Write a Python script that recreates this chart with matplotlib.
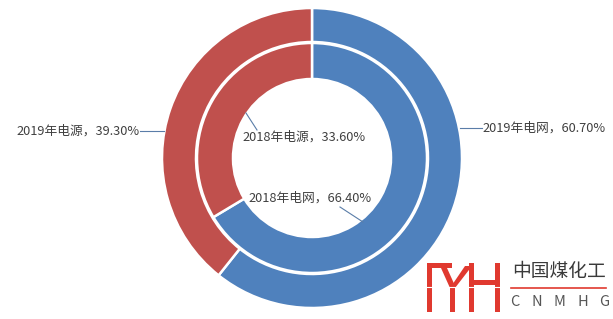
import matplotlib
matplotlib.use("Agg")
import matplotlib.pyplot as plt

plt.rcParams['font.family'] = ['Noto Sans CJK SC', 'DejaVu Sans']

# data
categories = ['电网', '电源']
values_2019 = [60.70, 39.30]
values_2018 = [66.40, 33.60]
colors = ['#4F81BD', '#C0504D']

W, H = 613, 319
fig = plt.figure(figsize=(W / 100, H / 100), dpi=100)
ax = fig.add_axes([0, 0, 1, 1])

cx, cy = 312, H - 158  # pie centre in pixel coords (y up)
wp = dict(edgecolor='white', linewidth=1.8)

# outer ring = 2019, inner ring = 2018
ax.pie(values_2019, colors=colors, startangle=90, counterclock=False,
       radius=150, center=(cx, cy), wedgeprops=dict(width=34, **wp))
ax.pie(values_2018, colors=colors, startangle=90, counterclock=False,
       radius=115, center=(cx, cy), wedgeprops=dict(width=36, **wp))

ax.set_xlim(0, W)
ax.set_ylim(0, H)
ax.set_aspect('equal')
ax.axis('off')


def Y(y):
    return H - y


txt_kw = dict(fontsize=9.2, color='#404040', va='center')
line_kw = dict(color='#5A7DA8', lw=0.8)

# labels (text from data, placement as in the reference)
lab = lambda yr, i, v: f'{yr}年{categories[i]}，{v:.2f}%'

ax.text(140, Y(131), lab(2019, 1, values_2019[1]), ha='right', **txt_kw)
ax.plot([140, 164], [Y(131), Y(131)], **line_kw)

ax.text(482, Y(128), lab(2019, 0, values_2019[0]), ha='left', **txt_kw)
ax.plot([460, 482], [Y(128), Y(128)], **line_kw)

ax.text(242, Y(137), lab(2018, 1, values_2018[1]), ha='left', **txt_kw)
ax.plot([246, 257], [Y(113), Y(130)], **line_kw)

ax.text(248, Y(198), lab(2018, 0, values_2018[0]), ha='left', **txt_kw)
ax.plot([340, 363], [Y(207), Y(222)], **line_kw)

# logo
red = '#E0392F'
bars = [  # x0, x1, y0, y1
    (427, 432, 263, 312),
    (427, 452, 263, 268),
    (450, 455, 288, 312),
    (469, 474, 263, 312),
    (469, 500, 280, 285),
    (495, 500, 263, 312),
]
for x0, x1, y0, y1 in bars:
    ax.fill([x0, x1, x1, x0], [Y(y0), Y(y0), Y(y1), Y(y1)], color=red, lw=0)
ax.fill([441, 447, 456, 450], [Y(268), Y(268), Y(288), Y(288)], color=red, lw=0)
ax.fill([465, 472, 455, 450], [Y(266), Y(266), Y(288), Y(288)], color=red, lw=0)
ax.plot([425, 502], [Y(286.5), Y(286.5)], color='white', lw=0.8)

ax.text(559, Y(272), '中国煤化工', ha='center', va='center', fontsize=13.5, color='#3a3a3a')
ax.plot([511, 606], [Y(287.5), Y(287.5)], color=red, lw=1.2)
for ch, x in zip('CNMHG', [515, 537, 559, 583, 604]):
    ax.text(x, Y(302), ch, ha='center', va='center', fontsize=10.5, color='#555555')

fig.savefig('out.png', dpi=100)
